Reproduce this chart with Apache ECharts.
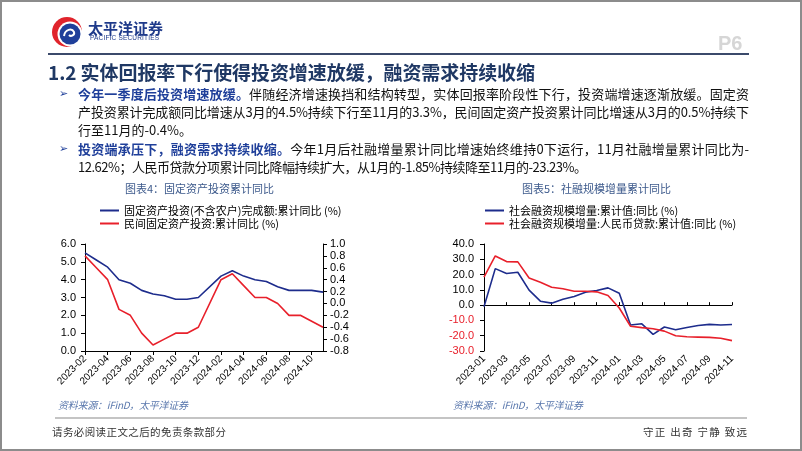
<!DOCTYPE html>
<html>
<head>
<meta charset="utf-8">
<script src="https://cdn.jsdelivr.net/npm/echarts@6/dist/echarts.min.js"></script>
<style>
  html, body { margin: 0; padding: 0; background: #fff; }
  #page { position: relative; width: 802px; height: 451px; overflow: hidden; box-sizing: border-box; border: 2px solid #8c8c8c; }
  #chart { position: absolute; left: -2px; top: -2px; width: 802px; height: 451px; }
  .t { position: absolute; white-space: nowrap; font-family: "Noto Sans CJK SC", sans-serif; }
  .ln { font-size: 13px; line-height: 18px; color: #111; left: 76px; }
  .ln b { color: #1f3f9a; }
  .bul { position: absolute; left: 57px; font-size: 11px; color: #1f3f9a; font-family: "DejaVu Sans", sans-serif; line-height: 18px; }
  .src { font-size: 10px; font-style: italic; color: #5a78ad; }
</style>
</head>
<body>
<div id="page">
  <div id="chart"></div>

  <!-- 页眉 -->
  <svg style="position:absolute;left:48px;top:12px" width="36" height="36" viewBox="0 0 36 36">
    <circle cx="17" cy="18" r="15" fill="#e0242c"/>
    <circle cx="20" cy="20" r="12.5" fill="#fff"/>
    <circle cx="20" cy="20" r="10.5" fill="#1f3f9a"/>
    <path d="M14 22 C15 15, 22 14, 24 18 C25 21, 21 23, 19 21" stroke="#fff" stroke-width="2" fill="none"/>
  </svg>
  <div class="t" style="left:86px;top:17px;font-size:15px;font-weight:bold;color:#1e3a8a;line-height:18px;">太平洋证券</div>
  <div class="t fit" data-w="69" style="left:88px;top:32px;font-size:6.5px;color:#1e3a8a;font-family:'Liberation Sans',sans-serif;line-height:8px;">PACIFIC SECURITIES</div>
  <div class="t" style="left:716px;top:30px;font-size:20px;font-weight:bold;color:#d6d6d6;font-family:'Liberation Sans',sans-serif;line-height:22px;">P6</div>
  <div style="position:absolute;left:46px;top:51px;width:701px;height:2px;background:#3b4a6b;"></div>

  <div class="t fit" data-w="487" style="left:46px;top:58px;font-size:19px;font-weight:bold;color:#1f3864;line-height:24px;">1.2 实体回报率下行使得投资增速放缓，融资需求持续收缩</div>

  <div class="bul" style="top:83px;">➢</div>
  <div class="t ln fit" data-w="671" style="top:83px;"><b>今年一季度后投资增速放缓。</b>伴随经济增速换挡和结构转型，实体回报率阶段性下行，投资端增速逐渐放缓。固定资</div>
  <div class="t ln fit" data-w="671" style="top:101px;">产投资累计完成额同比增速从3月的4.5%持续下行至11月的3.3%，民间固定资产投资累计同比增速从3月的0.5%持续下</div>
  <div class="t ln" style="top:119px;">行至11月的-0.4%。</div>
  <div class="bul" style="top:138px;">➢</div>
  <div class="t ln fit" data-w="671" style="top:138px;"><b>投资端承压下，融资需求持续收缩。</b>今年1月后社融增量累计同比增速始终维持0下运行，11月社融增量累计同比为-</div>
  <div class="t ln fit" data-w="509" style="top:156px;">12.62%；人民币贷款分项累计同比降幅持续扩大，从1月的-1.85%持续降至11月的-23.23%。</div>

  <!-- 资料来源与页脚 -->
  <div class="t src fit" data-w="130" style="left:56px;top:395px;">资料来源：iFinD，太平洋证券</div>
  <div class="t src fit" data-w="130" style="left:451px;top:395px;">资料来源：iFinD，太平洋证券</div>
  <div style="position:absolute;left:53px;top:415px;width:692px;height:2px;background:#c4c4c4;"></div>
  <div class="t fit" data-w="174" style="left:50px;top:422px;font-size:10.5px;color:#333;">请务必阅读正文之后的免责条款部分</div>
  <div class="t fit" data-w="104" style="left:641px;top:422px;font-size:10.5px;color:#333;">守正 出奇 宁静 致远</div>
</div>

<script>
// 图表4：固定资产投资累计同比
const monthsL = ['2023-02', '2023-03', '2023-04', '2023-05', '2023-06', '2023-07', '2023-08', '2023-09', '2023-10', '2023-11', '2023-12',
    '2024-01', '2024-02', '2024-03', '2024-04', '2024-05', '2024-06', '2024-07', '2024-08', '2024-09', '2024-10', '2024-11'];
const faiTotal = [5.5, 5.1, 4.7, 4.0, 3.8, 3.4, 3.2, 3.1, 2.9, 2.9, 3.0, null, 4.2, 4.5, 4.2, 4.0, 3.9, 3.6, 3.4, 3.4, 3.4, 3.3];
const faiPrivate = [0.8, 0.6, 0.4, -0.1, -0.2, -0.5, -0.7, -0.6, -0.5, -0.5, -0.4, null, 0.4, 0.5, 0.3, 0.1, 0.1, 0.0, -0.2, -0.2, -0.3, -0.4];

// 图表5：社融规模增量累计同比
const monthsR = ['2023-01', '2023-02', '2023-03', '2023-04', '2023-05', '2023-06', '2023-07', '2023-08', '2023-09', '2023-10', '2023-11', '2023-12',
    '2024-01', '2024-02', '2024-03', '2024-04', '2024-05', '2024-06', '2024-07', '2024-08', '2024-09', '2024-10', '2024-11'];
const tsfTotal = [-1.0, 23.9, 20.7, 21.5, 9.8, 2.6, 1.3, 3.9, 5.7, 8.5, 9.6, 11.3, 7.8, -13.0, -12.2, -19.1, -14.3, -16.1, -14.6, -13.3, -12.6, -13.0, -12.62];
const tsfLoans = [18.3, 32.2, 28.5, 28.3, 17.8, 15.0, 11.7, 10.7, 9.1, 9.1, 8.7, 6.3, -1.85, -13.8, -14.7, -15.4, -17.0, -20.0, -20.7, -20.9, -21.1, -21.7, -23.23];

const namesL = ['固定资产投资(不含农户)完成额:累计同比 (%)', '民间固定资产投资:累计同比 (%)'];
const namesR = ['社会融资规模增量:累计值:同比 (%)', '社会融资规模增量:人民币贷款:累计值:同比 (%)'];

const BLUE = '#1d2c8c';
const RED = '#e8202b';
const FONT = '"Liberation Sans", "Noto Sans CJK SC", sans-serif';

function fmt1(v) {
    if (Math.abs(v) < 1e-9) return '0.0';
    return v.toFixed(1);
}

const axisBlack = {lineStyle: {color: '#000', width: 1}};
const xLabel = {interval: 1, rotate: 45, fontSize: 10, color: '#000', margin: 6, fontFamily: FONT};
const titleStyle = {fontSize: 11, fontWeight: 'normal', color: '#3d5a8c', fontFamily: '"Noto Sans CJK SC"'};
const legendText = {fontSize: 11, color: '#000', fontFamily: '"Noto Sans CJK SC"'};

const chart = echarts.init(document.getElementById('chart'));
chart.setOption({
    animation: false,
    textStyle: {fontFamily: FONT},
    title: [
        {text: '图表4：固定资产投资累计同比', left: 125, top: 183, padding: 0, textStyle: titleStyle},
        {text: '图表5：社融规模增量累计同比', left: 522, top: 183, padding: 0, textStyle: titleStyle}
    ],
    legend: [
        {orient: 'vertical', left: 100, top: 205, padding: 0, itemWidth: 19, itemHeight: 2, itemGap: 2, itemTextGap: 3,
            icon: 'rect', data: namesL, textStyle: legendText},
        {orient: 'vertical', left: 485, top: 205, padding: 0, itemWidth: 19, itemHeight: 2, itemGap: 2, itemTextGap: 3,
            icon: 'rect', data: namesR, textStyle: legendText}
    ],
    grid: [
        {left: 85, top: 244, width: 238, height: 107},
        {left: 484, top: 244, width: 248, height: 107}
    ],
    xAxis: [
        {gridIndex: 0, type: 'category', data: monthsL, boundaryGap: false, axisLine: axisBlack,
            axisTick: {interval: 1, length: 4, lineStyle: {color: '#000'}}, axisLabel: xLabel},
        {gridIndex: 1, type: 'category', data: monthsR, boundaryGap: false, position: 'bottom',
            axisLine: {show: false, onZero: false}, axisTick: {show: false}, axisLabel: xLabel},
        {gridIndex: 1, type: 'category', data: monthsR, boundaryGap: false, position: 'top',
            axisLine: {show: true, onZero: true, lineStyle: {color: '#000'}},
            axisTick: {interval: 1, length: 3, lineStyle: {color: '#000'}}, axisLabel: {show: false}}
    ],
    yAxis: [
        {gridIndex: 0, type: 'value', min: 0, max: 6, interval: 1, position: 'left',
            axisLine: {show: true, lineStyle: {color: '#000'}}, axisTick: {show: true, length: 4}, splitLine: {show: false},
            axisLabel: {formatter: fmt1, fontSize: 11, color: '#000', margin: 9}},
        {gridIndex: 0, type: 'value', min: -0.8, max: 1.0, interval: 0.2, position: 'right',
            axisLine: {show: true, lineStyle: {color: '#000'}}, axisTick: {show: true, length: 4}, splitLine: {show: false},
            axisLabel: {formatter: fmt1, fontSize: 11, color: '#000', margin: 7}},
        {gridIndex: 1, type: 'value', min: -30, max: 40, interval: 10, position: 'left',
            axisLine: {show: true, onZero: false, lineStyle: {color: '#000'}}, axisTick: {show: true, length: 4}, splitLine: {show: false},
            axisLabel: {formatter: fmt1, fontSize: 11, margin: 10, color: v => (Number(v) < 0 ? RED : '#000')}}
    ],
    series: [
        {name: namesL[0], type: 'line', xAxisIndex: 0, yAxisIndex: 0, data: faiTotal, connectNulls: true,
            symbol: 'none', lineStyle: {color: BLUE, width: 1.6}, itemStyle: {color: BLUE}},
        {name: namesL[1], type: 'line', xAxisIndex: 0, yAxisIndex: 1, data: faiPrivate, connectNulls: true,
            symbol: 'none', lineStyle: {color: RED, width: 1.6}, itemStyle: {color: RED}},
        {name: namesR[0], type: 'line', xAxisIndex: 1, yAxisIndex: 2, data: tsfTotal,
            symbol: 'none', lineStyle: {color: BLUE, width: 1.6}, itemStyle: {color: BLUE}},
        {name: namesR[1], type: 'line', xAxisIndex: 1, yAxisIndex: 2, data: tsfLoans,
            symbol: 'none', lineStyle: {color: RED, width: 1.6}, itemStyle: {color: RED}}
    ]
});

// 文字两端对齐到指定宽度
document.querySelectorAll('.fit').forEach(el => {
    const target = Number(el.dataset.w);
    const n = Array.from(el.textContent).length;
    const w = el.getBoundingClientRect().width;
    if (n > 1) el.style.letterSpacing = ((target - w) / (n - 1)) + 'px';
});
</script>
</body>
</html>
